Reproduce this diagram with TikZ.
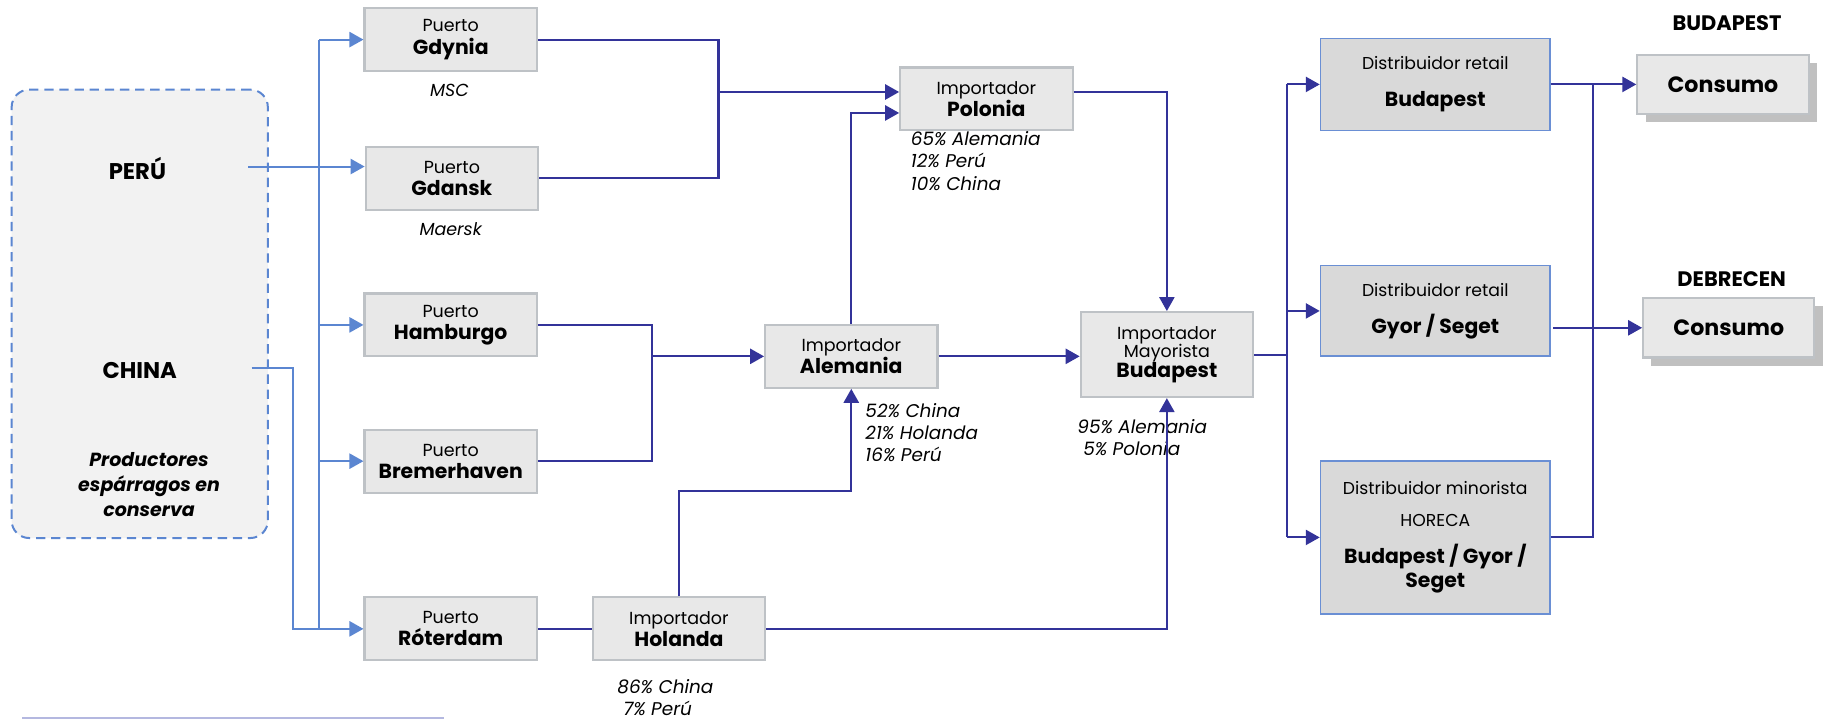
\documentclass[tikz,border=0pt]{standalone}
\usepackage{fontspec}
\setmainfont{Poppins}
\usetikzlibrary{arrows.meta,shadows}
\definecolor{lbc}{RGB}{91,134,209}
\definecolor{dbc}{RGB}{51,51,153}
\definecolor{portfill}{RGB}{232,232,232}
\definecolor{portdraw}{RGB}{190,194,198}
\definecolor{distfill}{RGB}{217,217,217}
\definecolor{distdraw}{RGB}{106,143,212}
\definecolor{leftfill}{RGB}{242,242,242}
\definecolor{shadowc}{RGB}{192,192,192}
\definecolor{lavc}{RGB}{180,184,224}
\newcommand{\bnm}[1]{{\fontsize{17.5}{20}\selectfont\bfseries #1}}
\begin{document}
\begin{tikzpicture}[x=1pt,y=-1pt,
  port/.style={draw=portdraw, fill=portfill, line width=1.8pt, minimum width=148, minimum height=54,
    align=center, inner sep=0pt, font=\fontsize{15}{18}\selectfont},
  dist/.style={draw=distdraw, fill=distfill, line width=1.5pt, minimum width=197,
    align=center, inner sep=0pt, font=\fontsize{14.8}{18}\selectfont},
  cons/.style={draw=portdraw, fill=portfill, line width=1.8pt, minimum width=147, minimum height=51,
    inner sep=0pt, font=\fontsize{19}{22}\selectfont\bfseries,
    drop shadow={shadow xshift=7pt, shadow yshift=-7pt, fill=shadowc, opacity=1}},
  pct/.style={align=left, inner sep=0pt, anchor=north west, font=\fontsize{15.8}{19}\selectfont\itshape},
  lbline/.style={draw=lbc, line width=1.7pt},
  dbline/.style={draw=dbc, line width=1.8pt},
  arr/.style={-{Triangle[length=12pt,width=13pt]}},
  head/.style={inner sep=0pt, font=\fontsize{19.5}{22}\selectfont\bfseries}
]
\useasboundingbox (0,0) rectangle (1568,617);

% left producer box
\node[draw=lbc, fill=leftfill, line width=1.7pt, dash pattern=on 8pt off 5pt, rounded corners=15pt,
  minimum width=220, minimum height=385, inner sep=0pt] (prod) at (120,269.5) {};
\node[head] (peru) at (118,145) {PERÚ};
\node[head] (china) at (120,318) {CHINA};
\node[align=center, inner sep=0pt, font=\fontsize{16.3}{21.5}\selectfont\bfseries\itshape] (prodtxt) at (128,416)
  {Productores\\espárragos en\\conserva};

% ports
\node[port] (gdynia) at (387,34) {Puerto\\[1pt]\bnm{Gdynia}};
\node[port] (gdansk) at (388,153) {Puerto\\[1pt]\bnm{Gdansk}};
\node[port] (hamburgo) at (387,279) {Puerto\\[1pt]\bnm{Hamburgo}};
\node[port] (bremer) at (387,396) {Puerto\\[1pt]\bnm{Bremerhaven}};
\node[port] (roter) at (387,540) {Puerto\\[1pt]\bnm{Róterdam}};
\node[inner sep=0pt, font=\fontsize{15}{18}\selectfont\itshape] (msc) at (386,78) {MSC};
\node[inner sep=0pt, font=\fontsize{15}{18}\selectfont\itshape] (maersk) at (387,197) {Maersk};

% importers
\node[port] (holanda) at (583,540) {Importador\\[1pt]\bnm{Holanda}};
\node[port] (alemania) at (731,306) {Importador\\[1pt]\bnm{Alemania}};
\node[port] (polonia) at (847,85) {Importador\\[1pt]\bnm{Polonia}};
\node[port, minimum height=73] (mayor) at (1002,304.5) {Importador\\[-2pt]Mayorista\\[-1pt]\bnm{Budapest}};

\node[pct] (ppol) at (782,113) {65\% Alemania\\12\% Perú\\10\% China};
\node[pct] (pale) at (743,346) {52\% China\\21\% Holanda\\16\% Perú};
\node[pct] (pmay) at (925,360) {95\% Alemania\\\hspace*{5pt}5\% Polonia};
\node[pct] (phol) at (530,583) {86\% China\\\hspace*{5pt}7\% Perú};

% distributors
\node[dist, minimum height=79] (dbud) at (1232.5,72.5) {Distribuidor retail\\[14pt]\bnm{Budapest}};
\node[dist, minimum height=78] (dgyor) at (1232.5,267) {Distribuidor retail\\[14pt]\bnm{Gyor / Seget}};
\node[dist, minimum height=131] (dhor) at (1232.5,461.5)
  {Distribuidor minorista\\[9pt]HORECA\\[14pt]{\fontsize{17.5}{21}\selectfont\bfseries Budapest / Gyor /}\\[3pt]{\fontsize{17.5}{21}\selectfont\bfseries Seget}};

% consumption
\node[cons] (cons1) at (1479.5,72.5) {Consumo};
\node[cons] (cons2) at (1484.5,281.5) {Consumo};
\node[head, font=\fontsize{18}{20}\selectfont\bfseries] (hbud) at (1483,20) {BUDAPEST};
\node[head, font=\fontsize{18}{20}\selectfont\bfseries] (hdeb) at (1487,240) {DEBRECEN};

% light blue connectors
\coordinate (tr) at (274,0);
\coordinate (cj) at (252,0);
\coordinate (pe) at (213,143);
\coordinate (ch) at (216,316);
\draw[lbline] (tr |- gdynia.west) -- (tr |- roter.west);
\draw[lbline,arr] (tr |- gdynia.west) -- (gdynia.west);
\draw[lbline,arr] (tr |- hamburgo.west) -- (hamburgo.west);
\draw[lbline,arr] (tr |- bremer.west) -- (bremer.west);
\draw[lbline] (ch) -| (cj |- roter.west) -- (tr |- roter.west);
\draw[lbline,arr] (tr |- roter.west) -- (roter.west);
\draw[lbline,arr] (pe) -- (pe -| gdansk.west);

% dark blue connectors
\coordinate (j1) at (617,0);
\coordinate (j2) at (560,0);
\coordinate (j3) at (0,422);
\coordinate (j4) at (1105,0);
\coordinate (j5) at (1368,0);
\coordinate (p1) at ([yshift=6pt]polonia.west);
\coordinate (p2) at ([yshift=-12pt]polonia.west);
\coordinate (p3) at ([yshift=6pt]polonia.east);
\draw[dbline] (gdynia.east) -| (j1 |- gdansk.east) -- (gdansk.east);
\draw[dbline,arr] (j1 |- p1) -- (p1);
\draw[dbline,arr] (alemania.north) |- (p2);
\draw[dbline] (hamburgo.east) -| (j2 |- bremer.east) -- (bremer.east);
\draw[dbline,arr] (j2 |- alemania.west) -- (alemania.west);
\draw[dbline,arr] (holanda.north) |- (j3 -| alemania.south) -- (alemania.south);
\draw[dbline] (roter.east) -- (holanda.west);
\draw[dbline,arr] (holanda.east) -| (mayor.south);
\draw[dbline,arr] (alemania.east) -- (alemania.east -| mayor.west);
\draw[dbline,arr] (p3) -| (mayor.north);
\draw[dbline] (mayor.east) -- (j4 |- mayor.east);
\draw[dbline] (j4 |- dbud.west) -- (j4 |- dhor.west);
\draw[dbline,arr] (j4 |- dbud.west) -- (dbud.west);
\draw[dbline,arr] (j4 |- dgyor.west) -- (dgyor.west);
\draw[dbline,arr] (j4 |- dhor.west) -- (dhor.west);
\draw[dbline,arr] (dbud.east) -- (dbud.east -| cons1.west);
\draw[dbline] (dhor.east) -| (j5 |- dbud.east);
\draw[dbline,arr] ([xshift=2pt]cons2.west -| dgyor.east) -- (cons2.west);

% bottom rule
\draw[draw=lavc, line width=1.2pt] (19,616.4) -- (381,616.4);
\end{tikzpicture}
\end{document}
